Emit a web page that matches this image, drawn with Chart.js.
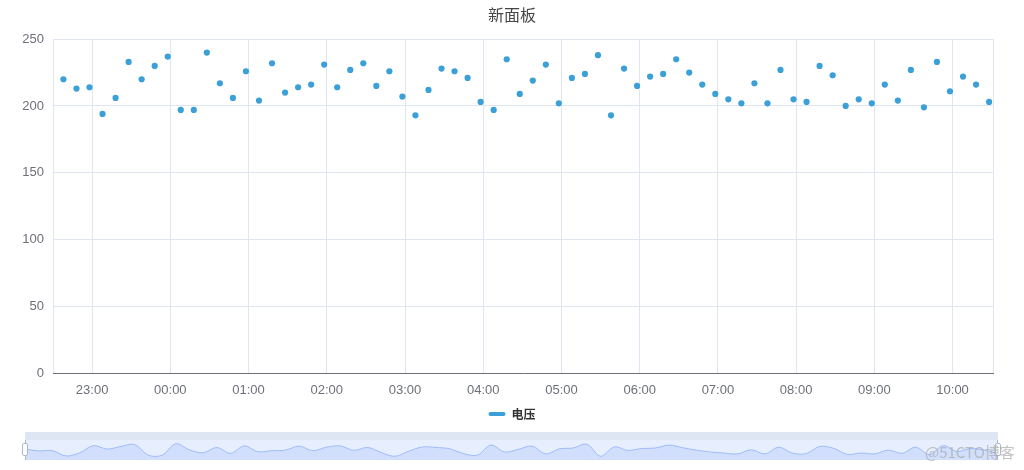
<!DOCTYPE html>
<html><head><meta charset="utf-8">
<script src="https://cdn.jsdelivr.net/npm/chart.js@4.4.1/dist/chart.umd.min.js"></script>
<style>
html,body{margin:0;padding:0;background:#fff;}
#wrap{position:relative;width:1024px;height:470px;overflow:hidden;}
#main{position:absolute;left:0;top:0;}
#moveBar{position:absolute;left:25px;top:432px;width:973px;height:8px;background:rgba(210,219,238,0.7);}
#filler{position:absolute;left:25px;top:440px;width:973px;height:20px;background:rgba(135,175,255,0.2);}
#zoomCanvas{position:absolute;left:25px;top:440px;}
.handle{position:absolute;top:443px;width:6px;height:13px;background:#fff;border:1px solid #ACB8D1;border-radius:2px;box-sizing:border-box;}
.hline{position:absolute;top:440px;width:1px;height:20px;background:#ACB8D1;}
#wm{position:absolute;left:925px;top:441px;font:15px 'Noto Sans CJK SC',sans-serif;color:rgba(170,170,170,0.7);white-space:nowrap;}
</style></head>
<body><div id="wrap">
<canvas id="main" width="1024" height="470"></canvas>
<div id="moveBar"></div><div id="filler"></div>
<canvas id="zoomCanvas" width="973" height="20"></canvas>
<div class="hline" style="left:25px"></div><div class="hline" style="left:997px"></div>
<div class="handle" style="left:22px"></div><div class="handle" style="left:995px"></div>
<div id="wm">@51CTO博客</div>
</div>
<script>
const times = ['22:38','22:48','22:58','23:08','23:18','23:28','23:38','23:48','23:58',
 '00:08','00:18','00:28','00:38','00:48','00:58','01:08','01:18','01:28','01:38','01:48','01:58',
 '02:08','02:18','02:28','02:38','02:48','02:58','03:08','03:18','03:28','03:38','03:48','03:58',
 '04:08','04:18','04:28','04:38','04:48','04:58','05:08','05:18','05:28','05:38','05:48','05:58',
 '06:08','06:18','06:28','06:38','06:48','06:58','07:08','07:18','07:28','07:38','07:48','07:58',
 '08:08','08:18','08:28','08:38','08:48','08:58','09:08','09:18','09:28','09:38','09:48','09:58',
 '10:08','10:18','10:28'];
const voltage = [220,213,214,194,206,233,220,230,237,197,197,240,
 217,206,226,204,232,210,214,216,231,214,227,232,
 215,226,207,193,212,228,226,221,203,197,235,209,
 219,231,202,221,224,238,193,228,215,222,224,235,
 225,216,209,205,202,217,202,227,205,203,230,223,
 200,205,202,216,204,227,199,233,211,222,216,203];
const xTickLabels = ['23:00','00:00','01:00','02:00','03:00','04:00','05:00','06:00','07:00','08:00','09:00','10:00'];
const yTickValues = [0,50,100,150,200,250];
const xRange = ['22:30','10:31'];
const seriesName = '电压';
const titleText = '新面板';

function toMin(s){const p=s.split(':').map(Number);const h=p[0]<12?p[0]+24:p[0];return h*60+p[1]-22*60;}
function fromMin(v){let t=(v+22*60)%(24*60);const h=Math.floor(t/60),m=Math.round(t%60);return String(h).padStart(2,'0')+':'+String(m).padStart(2,'0');}

const points = times.map((t,i)=>({x:toMin(t),y:voltage[i]}));
const tickMins = xTickLabels.map(toMin);
const xMin = toMin(xRange[0]), xMax = toMin(xRange[1]);

Chart.defaults.font.family = "'Liberation Sans','Noto Sans CJK SC',sans-serif";
Chart.defaults.font.size = 13;

const color = '#3b9fd8';
const gridColor = '#e0e6f1';
const labelColor = '#6E7079';

new Chart(document.getElementById('main'), {
  type: 'scatter',
  data: { datasets: [{
    label: seriesName, data: points,
    backgroundColor: color, borderColor: color, borderWidth: 0,
    pointRadius: 3.1, pointHoverRadius: 3.1, pointBorderWidth: 0
  }]},
  options: {
    responsive: false, animation: false,
    layout: { padding: { left: 0, right: 0, top: 0, bottom: 40 } },
    plugins: {
      tooltip: { enabled: false },
      title: { display: true, text: titleText, color: '#464646',
        font: { size: 16, weight: 'normal', family: "'Noto Sans CJK SC',sans-serif" },
        padding: { top: 5, bottom: 15 } },
      legend: { display: true, position: 'bottom',
        labels: { boxWidth: 17, boxHeight: 4, useBorderRadius: true, borderRadius: 2,
          color: '#333', padding: 10,
          font: { size: 12, weight: 'bold', family: "'Noto Sans CJK SC',sans-serif" } } }
    },
    scales: {
      x: { type: 'linear', min: xMin, max: xMax,
        afterBuildTicks: s => { s.ticks = [{value:xMin}].concat(tickMins.map(v=>({value:v})), [{value:xMax}]); },
        afterFit: s => { s.height = 25; },
        ticks: { autoSkip: false, maxRotation: 0, color: labelColor, padding: 10,
          callback: v => tickMins.includes(v) ? fromMin(v) : '' },
        grid: { color: gridColor, drawTicks: false },
        border: { display: true, color: labelColor, width: 1 } },
      y: { min: 0, max: 250,
        afterBuildTicks: s => { s.ticks = yTickValues.map(v=>({value:v})); },
        afterFit: s => { s.width = 53; },
        ticks: { color: labelColor, padding: 9 },
        grid: { color: gridColor, drawTicks: false },
        border: { display: false } },
      yRight: { position: 'right', min: 0, max: 250,
        afterFit: s => { s.width = 31; },
        ticks: { display: false },
        grid: { display: false, drawTicks: false },
        border: { display: false } }
    }
  }
});

const vMin = Math.min(...voltage), vMax = Math.max(...voltage);
const pad = (vMax - vMin) * 0.3;
new Chart(document.getElementById('zoomCanvas'), {
  type: 'line',
  data: { datasets: [{ data: points, borderColor: '#8fb0f7', borderWidth: 0.8,
    fill: 'start', backgroundColor: 'rgba(143,176,247,0.25)', tension: 0.35, pointRadius: 0 }]},
  options: {
    responsive: false, animation: false,
    layout: { padding: 0 },
    plugins: { legend: { display: false }, tooltip: { enabled: false }, title: { display: false } },
    scales: {
      x: { type: 'linear', display: false, min: points[0].x, max: points[points.length-1].x },
      y: { display: false, min: vMin - pad, max: vMax + pad }
    }
  }
});
</script>
</body></html>
